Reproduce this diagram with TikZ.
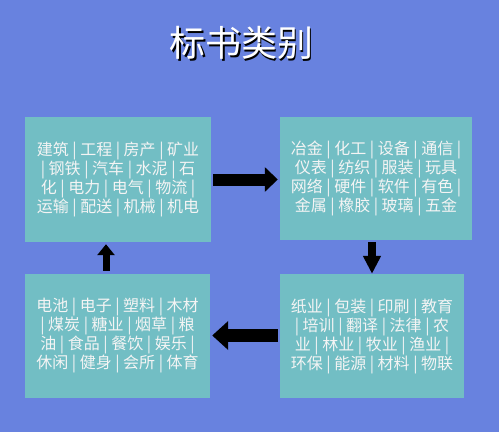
\documentclass[tikz,border=0pt]{standalone}
\usepackage{fontspec}
\setmainfont{Noto Sans CJK SC}
\usetikzlibrary{arrows.meta}
\definecolor{bidSky}{HTML}{6882DF}
\definecolor{bidTeal}{HTML}{72BEC4}
\definecolor{bidText}{HTML}{F4F4F4}

\begin{document}
\begin{tikzpicture}[x=1pt, y=-1pt,
        cat/.style={fill=bidTeal, text=bidText, align=center, inner sep=0pt,
                    font=\fontsize{16}{19}\selectfont},
        titel/.style={font=\fontsize{36}{40}\selectfont, inner sep=0pt},
        pfeil/.style={black, line width=#1}]
        \useasboundingbox[fill=bidSky] (0,0) rectangle (499,432);
        % Titel mit Schatten
        \node[titel, text=black] (tS) at (243,44.5) {标书类别};
        \node[titel, text=white] (t) at (241.5,43) {标书类别};
        \node[cat, minimum width=186pt, minimum height=125pt] (tl) at (118,179.5)
          {建筑 | 工程 | 房产 | 矿业\\| 钢铁 | 汽车 | 水泥 | 石\\化 | 电力 | 电气 | 物流 |\\运输 | 配送 | 机械 | 机电};
        \node[cat, minimum width=192pt, minimum height=123pt] (tr) at (376,178.5)
          {冶金 | 化工 | 设备 | 通信 |\\仪表 | 纺织 | 服装 | 玩具\\网络 | 硬件 | 软件 | 有色 |\\金属 | 橡胶 | 玻璃 | 五金};
        \node[cat, minimum width=185pt, minimum height=124pt] (bl) at (117.5,336)
          {电池 | 电子 | 塑料 | 木材\\| 煤炭 | 糖业 | 烟草 | 粮\\油 | 食品 | 餐饮 | 娱乐 |\\休闲 | 健身 | 会所 | 体育};
        \node[cat, minimum width=184pt, minimum height=124pt] (br) at (372,336)
          {纸业 | 包装 | 印刷 | 教育\\| 培训 | 翻译 | 法律 | 农\\业 | 林业 | 牧业 | 渔业 |\\环保 | 能源 | 材料 | 物联};
        \draw[pfeil=12pt, -{Triangle[width=24pt, length=13pt]}, shorten <=2pt, shorten >=2pt]
          (tl.east) -- (tl.east -| tr.west);
        \draw[pfeil=8pt, -{Triangle[width=17pt, length=18pt]}, shorten <=2pt]
          ([xshift=-4pt]tr.south) -- ([xshift=-4pt]tr.south |- br.north);
        \draw[pfeil=13pt, -{Triangle[width=28pt, length=16pt]}, shorten <=2pt, shorten >=2pt]
          ([yshift=0.5pt]br.west) -- ([yshift=0.5pt]br.west -| bl.east);
        \draw[pfeil=7pt, -{Triangle[width=17pt, length=11pt]}, shorten <=3pt, shorten >=2pt]
          ([xshift=-11.5pt]bl.north) -- ([xshift=-11.5pt]bl.north |- tl.south);
      \end{tikzpicture}
\end{document}
